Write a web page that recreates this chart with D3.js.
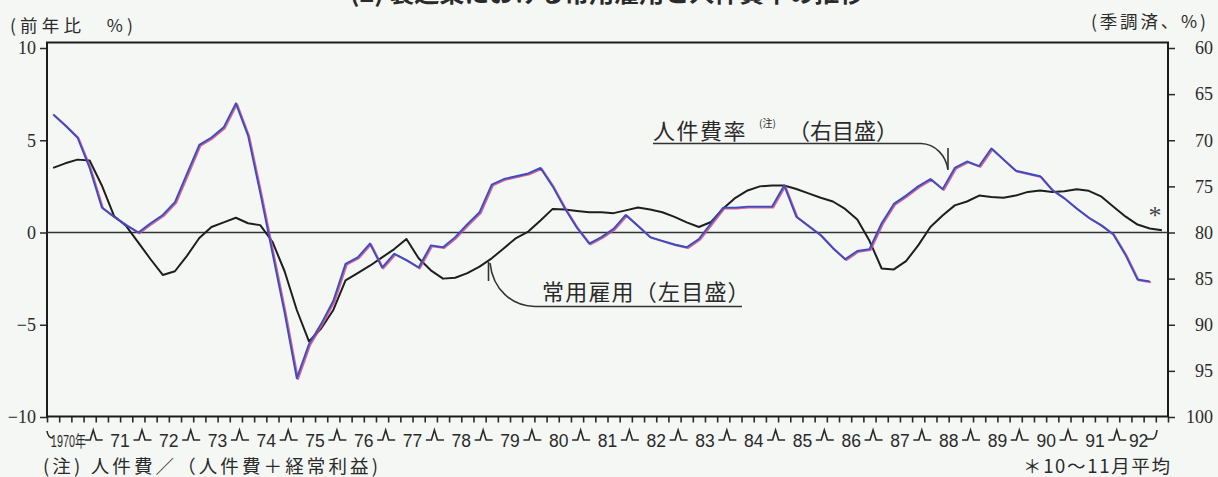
<!DOCTYPE html>
<html>
<head>
<meta charset="utf-8">
<script src="https://cdn.jsdelivr.net/npm/d3@7"></script>
<style>
  html, body { margin: 0; padding: 0; background: #f5f7f4; }
  svg { display: block; }
</style>
</head>
<body>
<svg id="chart" width="1218" height="477"></svg>
<script>
// ---- data -------------------------------------------------------------
const years = [1970, 1971, 1972, 1973, 1974, 1975, 1976, 1977, 1978, 1979, 1980, 1981,
               1982, 1983, 1984, 1985, 1986, 1987, 1988, 1989, 1990, 1991, 1992];
const yearLabels = ["1970年", "71", "72", "73", "74", "75", "76", "77", "78", "79", "80", "81",
                    "82", "83", "84", "85", "86", "87", "88", "89", "90", "91", "92"];
const quarters = years.flatMap(y => ["Q1", "Q2", "Q3", "Q4"].map(q => y + q));

// 常用雇用 (前年比 %, left scale), 1970Q1–1992Q4 (last = Oct–Nov average)
const employment = [
   3.5,  3.75,  3.95,  3.9,   2.55,  0.9,   0.35, -0.55,
  -1.45, -2.3,  -2.1,  -1.25, -0.3,   0.3,   0.55,  0.8,
   0.5,   0.4,  -0.5,  -2.1,  -4.2,  -5.9,  -5.2,  -4.2,
  -2.6,  -2.2,  -1.8,  -1.35, -0.9,  -0.35, -1.4,  -2.05,
  -2.5,  -2.45, -2.2,  -1.85, -1.4,  -0.85, -0.3,   0.05,
   0.65,  1.28,  1.25,  1.17,  1.1,   1.1,   1.05,  1.2,
   1.35,  1.25,  1.1,   0.85,  0.55,  0.3,   0.57,  1.3,
   1.88,  2.28,  2.5,   2.55,  2.55,  2.36,  2.12,  1.88,
   1.68,  1.28,  0.7,  -0.45, -1.95, -2.0,  -1.55, -0.7,
   0.3,   0.92,  1.47,  1.68,  2.0,   1.93,  1.88,  2.0,
   2.2,   2.28,  2.2,   2.23,  2.34,  2.26,  1.96,  1.41,
   0.87,  0.43,  0.22,  0.12
];

// 人件費率 (季調済 %, right scale), 1970Q1–1992Q3
const laborCostRatio = [
  67.2, 68.4, 69.7, 73.0, 77.3, 78.3, 79.2, 80.0,
  79.0, 78.1, 76.7, 73.6, 70.5, 69.7, 68.6, 66.0,
  69.5, 75.7, 82.2, 88.7, 95.8, 92.1, 89.9, 87.4,
  83.4, 82.7, 81.2, 83.8, 82.3, 83.0, 83.8, 81.4,
  81.6, 80.5, 79.1, 77.8, 74.8, 74.2, 73.9, 73.6,
  73.0, 75.0, 77.4, 79.5, 81.2, 80.5, 79.6, 78.1,
  79.3, 80.5, 80.9, 81.3, 81.6, 80.7, 79.0, 77.3,
  77.3, 77.2, 77.2, 77.2, 74.9, 78.3, 79.3, 80.3,
  81.7, 82.9, 82.0, 81.8, 79.0, 76.9, 76.0, 75.0,
  74.2, 75.3, 73.0, 72.3, 72.8, 70.9, 72.1, 73.3,
  73.6, 73.9, 75.4, 76.3, 77.4, 78.4, 79.2, 80.2,
  82.4, 85.1, 85.3
];

const leftTicks = [10, 5, 0, -5, -10];
const rightTicks = [60, 65, 70, 75, 80, 85, 90, 95, 100];

// ---- layout -----------------------------------------------------------
const svg = d3.select("#chart");
const frame = { left: 47, right: 1168, top: 42.5, bottom: 416.5 };
const ink = "#2a2a2a";
const jp = "'Noto Sans CJK JP', 'Noto Sans', sans-serif";

const x = d3.scaleLinear().domain([1970, 1993]).range([frame.left, frame.right]);
const xq = d3.scaleBand().domain(quarters).range([frame.left, frame.right]);
const qx = q => xq(q) + xq.bandwidth() / 2;
const yL = d3.scaleLinear().domain([-10, 10]).range([417, 48]);
const yR = d3.scaleLinear().domain([100, 60]).range([417, 48]);

// title (runs off the top edge of the page)
svg.append("text")
  .attr("x", 350).attr("y", 2)
  .attr("font-family", jp).attr("font-weight", 700).attr("font-size", 25)
  .attr("fill", ink)
  .text("(2) 製造業における常用雇用と人件費率の推移");

// axis unit captions
svg.append("text")
  .attr("x", 10).attr("y", 32)
  .attr("font-family", jp).attr("font-size", 17.5).attr("fill", ink)
  .attr("textLength", 123).attr("lengthAdjust", "spacing")
  .text("(前年比　%)");
svg.append("text")
  .attr("x", 1091).attr("y", 28)
  .attr("font-family", jp).attr("font-size", 17.5).attr("fill", ink)
  .attr("textLength", 115).attr("lengthAdjust", "spacing")
  .text("(季調済、%)");

// left axis
const gL = svg.append("g")
  .attr("transform", `translate(${frame.left},0)`)
  .call(d3.axisLeft(yL).tickValues(leftTicks).tickSize(7).tickPadding(4).tickFormat(d3.format("d")));
gL.select(".domain").remove();
gL.selectAll("line").attr("stroke", ink).attr("stroke-width", 1.5);
gL.selectAll("text")
  .attr("font-family", "'Liberation Serif', serif").attr("font-size", 18).attr("fill", ink);

// right axis
const gR = svg.append("g")
  .attr("transform", `translate(${frame.right},0)`)
  .call(d3.axisRight(yR).tickValues(rightTicks).tickSize(7).tickFormat(d3.format("d")));
gR.select(".domain").remove();
gR.selectAll("line").attr("stroke", ink).attr("stroke-width", 1.5);
gR.selectAll("text")
  .attr("x", 45).attr("text-anchor", "end")
  .attr("font-family", "'Liberation Serif', serif").attr("font-size", 18).attr("fill", ink);

// bottom axis: a tick at every quarter boundary
const quarterEdges = quarters.map(q => xq(q)).concat([frame.right]);
const gB = svg.append("g")
  .attr("transform", `translate(0,${frame.bottom})`)
  .call(d3.axisBottom(d3.scaleIdentity()).tickValues(quarterEdges).tickSize(6).tickFormat(""));
gB.select(".domain").remove();
gB.selectAll("line").attr("stroke", ink).attr("stroke-width", 1.6);

// year labels with bracket marks between years
const yearG = svg.append("g").attr("fill", ink);
yearG.selectAll("text.yr")
  .data(years.map((y, i) => ({ y, label: yearLabels[i] })))
  .join("text")
  .attr("class", "yr")
  .attr("x", d => x(d.y + 0.5) - (d.y === 1992 ? 5 : 0) - (d.y === 1970 ? 3 : 0))
  .attr("y", 447)
  .attr("text-anchor", "middle")
  .attr("font-family", "'Liberation Sans', 'Noto Sans CJK JP', sans-serif")
  .attr("font-size", d => d.y === 1970 ? 16 : 17.5)
  .attr("textLength", d => d.y === 1970 ? 35 : null)
  .attr("lengthAdjust", "spacingAndGlyphs")
  .text(d => d.label);

yearG.selectAll("path.mark")
  .data(years.slice(1))
  .join("path")
  .attr("class", "mark")
  .attr("transform", d => `translate(${x(d) - 2},440)`)
  .attr("d", "M-9,0 H-3.5 L-0.5,-10 L2.5,0 H9")
  .attr("fill", "none").attr("stroke", ink).attr("stroke-width", 1.6);
svg.append("path")
  .attr("d", `M${x(1970)},431 Q${x(1970) + 1},438 ${x(1970) + 6},438`)
  .attr("fill", "none").attr("stroke", ink).attr("stroke-width", 1.6);
svg.append("path")
  .attr("d", `M${x(1993) - 22},439 H${x(1993) - 15} Q${x(1993) - 12},438 ${x(1993) - 11},430`)
  .attr("fill", "none").attr("stroke", ink).attr("stroke-width", 1.6);

// frame and zero line
svg.append("rect")
  .attr("x", frame.left).attr("y", frame.top)
  .attr("width", frame.right - frame.left).attr("height", frame.bottom - frame.top)
  .attr("fill", "none").attr("stroke", "#1c1c1c").attr("stroke-width", 2);
svg.append("line")
  .attr("x1", frame.left).attr("x2", frame.right)
  .attr("y1", yL(0)).attr("y2", yL(0))
  .attr("stroke", "#333").attr("stroke-width", 1.4);

// series
const empPath = d3.line().x((d, i) => qx(quarters[i])).y(d => yL(d));
const costPath = d3.line().x((d, i) => qx(quarters[i])).y(d => yR(d));

svg.append("path")
  .datum(employment)
  .attr("d", empPath)
  .attr("fill", "none").attr("stroke", "#1e1e1e").attr("stroke-width", 2)
  .attr("stroke-linejoin", "round");

// print-register fringe under the blue line
svg.append("path")
  .datum(laborCostRatio)
  .attr("d", costPath)
  .attr("transform", "translate(1.2,0.8)")
  .attr("fill", "none").attr("stroke", "#d2487f").attr("stroke-width", 2)
  .attr("stroke-opacity", 0.85).attr("stroke-linejoin", "round");
svg.append("path")
  .datum(laborCostRatio)
  .attr("d", costPath)
  .attr("fill", "none").attr("stroke", "#3a4ec4").attr("stroke-width", 1.9)
  .attr("stroke-linejoin", "round");

// asterisk on the last (partial) employment point
svg.append("text")
  .attr("x", qx(quarters[91]) - 7).attr("y", 224)
  .attr("text-anchor", "middle")
  .attr("font-family", "'Liberation Serif', serif").attr("font-size", 26).attr("fill", "#444")
  .text("*");

// series labels with leader lines
const ann = svg.append("g").attr("fill", ink).attr("font-family", jp);
ann.append("text").attr("x", 653).attr("y", 138.5)
  .attr("font-size", 22).attr("letter-spacing", 1.5).text("人件費率");
ann.append("text").attr("x", 759).attr("y", 127)
  .attr("font-size", 10).text("(注)");
ann.append("text").attr("x", 788).attr("y", 138.5)
  .attr("font-size", 22).text("（右目盛）");
ann.append("path")
  .attr("d", "M653,143.5 H921 C935,144 946,155 948,170")
  .attr("fill", "none").attr("stroke", "#333").attr("stroke-width", 1.6);
ann.append("line")
  .attr("x1", 948).attr("x2", 948).attr("y1", 148).attr("y2", 169)
  .attr("stroke", "#333").attr("stroke-width", 1.6);

ann.append("text").attr("x", 542).attr("y", 300)
  .attr("font-size", 22).attr("letter-spacing", 1.2).text("常用雇用（左目盛）");
ann.append("path")
  .attr("d", "M742,306.5 H535 C512,306 493,290 490,263")
  .attr("fill", "none").attr("stroke", "#333").attr("stroke-width", 1.6);
ann.append("line")
  .attr("x1", 488.5).attr("x2", 488.5).attr("y1", 262).attr("y2", 281)
  .attr("stroke", "#333").attr("stroke-width", 1.6);

// footnotes
svg.append("text")
  .attr("x", 43).attr("y", 472.5)
  .attr("font-family", jp).attr("font-size", 18.5).attr("fill", ink)
  .attr("textLength", 335).attr("lengthAdjust", "spacing")
  .text("(注) 人件費／（人件費＋経常利益)");
svg.append("text")
  .attr("x", 1023).attr("y", 472.5)
  .attr("font-family", jp).attr("font-size", 18.5).attr("fill", ink)
  .attr("textLength", 147).attr("lengthAdjust", "spacing")
  .text("＊10～11月平均");
</script>
</body>
</html>
